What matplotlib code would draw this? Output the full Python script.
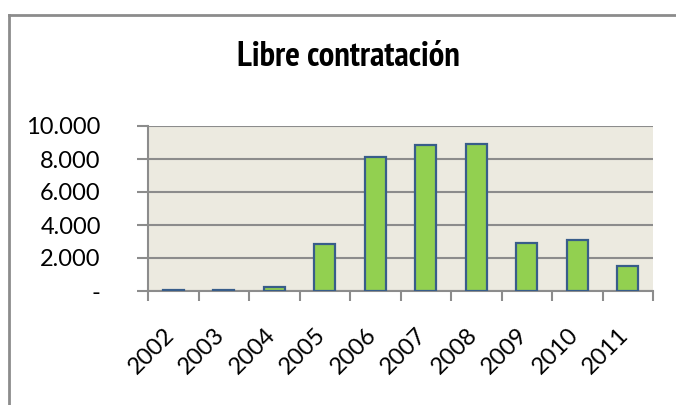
import matplotlib.pyplot as plt
from matplotlib import font_manager
from matplotlib.lines import Line2D
from matplotlib.ticker import FixedLocator, FuncFormatter
from matplotlib.transforms import ScaledTranslation

years = ["2002", "2003", "2004", "2005", "2006", "2007", "2008", "2009", "2010", "2011"]
values = [40, 80, 250, 2870, 8100, 8870, 8930, 2910, 3070, 1515]
y_ticks = [0, 2000, 4000, 6000, 8000, 10000]

grid_col = "#8c8c8c"
label_font = ["Lato", "DejaVu Sans"]


def fmt_thousands(v, pos):
    if v == 0:
        return "-"
    return f"{int(v):,}".replace(",", ".")


def narrow_bold_font():
    # the title uses an Arial Narrow Bold look; take a narrow face that has a bold weight
    bold = {}
    for f in font_manager.fontManager.ttflist:
        w = f.weight if isinstance(f.weight, int) else font_manager.weight_dict.get(f.weight, 400)
        if w >= 600:
            bold[f.name] = f.fname
    for key in ["Narrow", "Condensed"]:
        for n in sorted(bold):
            if key in n and "Light" not in n and "Thin" not in n:
                return bold[n]
    return None


def main():
    fig = plt.figure(figsize=(6.76, 4.05), dpi=100)
    ax = fig.add_axes([148 / 676, 1 - 291 / 405, 505 / 676, 165 / 405])
    ax.set_facecolor("#ECEAE0")

    x = list(range(len(years)))
    ax.bar(x, values, width=0.42, color="#92D050", edgecolor="#385D8A",
           linewidth=1.6, zorder=3)

    ax.set_xlim(-0.5, len(years) - 0.5)
    ax.set_ylim(0, 10000)

    # gridlines and y ticks
    ax.yaxis.set_major_locator(FixedLocator(y_ticks))
    ax.yaxis.set_major_formatter(FuncFormatter(fmt_thousands))
    ax.grid(axis="y", color=grid_col, linewidth=1.5, zorder=1)
    ax.tick_params(axis="y", length=8, width=1.5, color=grid_col, pad=26,
                   labelsize=17)

    # x ticks at category boundaries, labels at centers
    ax.xaxis.set_major_locator(FixedLocator([i - 0.5 for i in range(len(years) + 1)]))
    ax.xaxis.set_minor_locator(FixedLocator(x))
    ax.set_xticklabels([], minor=False)
    ax.set_xticks(x, years, minor=True)
    ax.tick_params(axis="x", which="major", length=7, width=1.5, color=grid_col)
    ax.tick_params(axis="x", which="minor", length=0, pad=24, labelsize=17)
    shift = ScaledTranslation(5 / 100, 0, fig.dpi_scale_trans)
    for lab in ax.get_xticklabels(minor=True):
        lab.set_rotation(45)
        lab.set_ha("right")
        lab.set_va("top")
        lab.set_family(label_font)
        lab.set_transform(lab.get_transform() + shift)
    for lab in ax.get_yticklabels():
        lab.set_family(label_font)

    for side in ["top", "right"]:
        ax.spines[side].set_visible(False)
    for side in ["left", "bottom"]:
        ax.spines[side].set_color(grid_col)
        ax.spines[side].set_linewidth(1.5)

    title_file = narrow_bold_font()
    if title_file:
        title_font = dict(fontproperties=font_manager.FontProperties(fname=title_file, size=25))
    else:
        title_font = dict(fontsize=19, fontweight="bold", family=["Liberation Sans"])
    fig.text(348 / 676, 1 - 66 / 405, "Libre contratación", ha="center", va="baseline",
             **title_font)

    # outer chart frame (left and top edges visible)
    fig.add_artist(Line2D([8.5 / 676, 8.5 / 676], [0, 1 - 15 / 405],
                          color=grid_col, linewidth=2, transform=fig.transFigure))
    fig.add_artist(Line2D([8.5 / 676, 1], [1 - 15 / 405, 1 - 15 / 405],
                          color=grid_col, linewidth=2, transform=fig.transFigure))

    fig.savefig("out.png", dpi=100)


if __name__ == "__main__":
    main()
